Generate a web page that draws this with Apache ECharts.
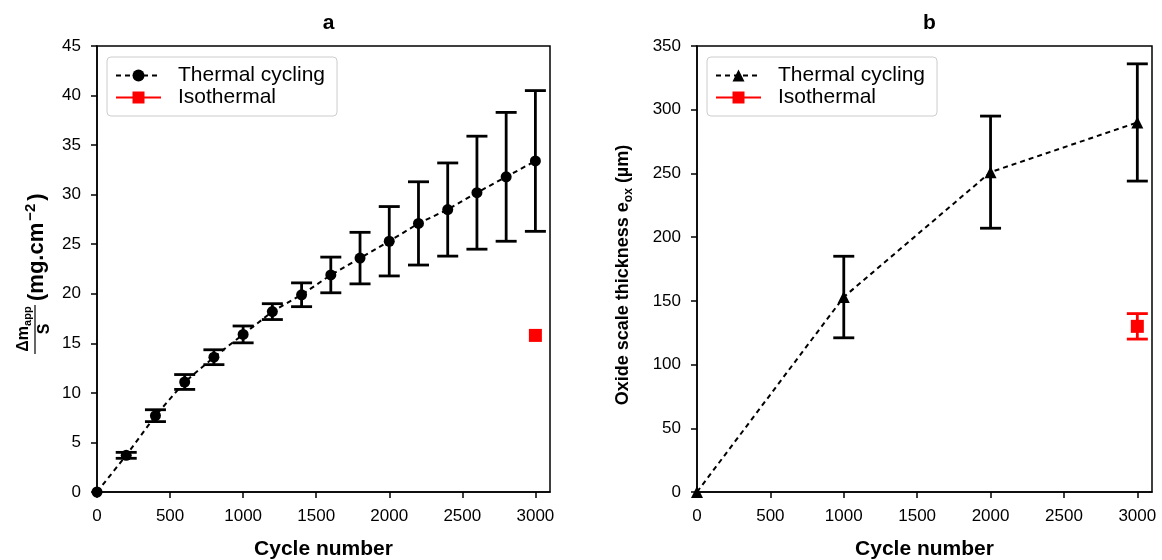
<!DOCTYPE html>
<html><head><meta charset="utf-8">
<script src="https://cdn.jsdelivr.net/npm/echarts@6/dist/echarts.min.js"></script>
<style>html,body{margin:0;padding:0;background:#fff}#c{width:1162px;height:560px}</style>
</head><body><div id="c"></div>
<script>
// ---- data ----
const xTicks = [0, 500, 1000, 1500, 2000, 2500, 3000];
const cyclesA = [0, 200, 400, 600, 800, 1000, 1200, 1400, 1600, 1800, 2000, 2200, 2400, 2600, 2800, 3000];
const massGain = [0, 3.7, 7.7, 11.1, 13.6, 15.9, 18.2, 19.9, 21.9, 23.6, 25.3, 27.1, 28.5, 30.2, 31.8, 33.4];
const massErr = [0, 0.3, 0.6, 0.75, 0.75, 0.85, 0.8, 1.2, 1.8, 2.6, 3.5, 4.2, 4.7, 5.7, 6.5, 7.1];
const isoCycleA = [3000];
const isoMass = [15.8];
const cyclesB = [0, 1000, 2000, 3000];
const thickness = [0, 153, 251, 290];
const thicknessErr = [0, 32, 44, 46];
const isoCycleB = [3000];
const isoThickness = [130];
const isoThicknessErr = [10];

const FONT = "'Liberation Sans', Arial, sans-serif";
const BLACK = '#000';
const RED = '#ff0000';

function pairs(xs, ys) { return xs.map((x, i) => [x, ys[i]]); }
function errData(xs, ys, es) {
  const out = [];
  xs.forEach((x, i) => { if (es[i] > 0) out.push([x, ys[i] - es[i], ys[i] + es[i]]); });
  return out;
}
function errorSeries(idx, data, color) {
  return {
    type: 'custom', xAxisIndex: idx, yAxisIndex: idx, data: data, z: 2, silent: true,
    encode: { x: 0, y: [1, 2] },
    renderItem: function (params, api) {
      const x = api.value(0), lo = api.value(1), hi = api.value(2);
      const p1 = api.coord([x, hi]), p2 = api.coord([x, lo]);
      const h = 10.5;
      const st = { stroke: color, lineWidth: 2.8 };
      return { type: 'group', children: [
        { type: 'line', shape: { x1: p1[0], y1: p1[1], x2: p2[0], y2: p2[1] }, style: st },
        { type: 'line', shape: { x1: p1[0] - h, y1: p1[1], x2: p1[0] + h, y2: p1[1] }, style: st },
        { type: 'line', shape: { x1: p2[0] - h, y1: p2[1], x2: p2[0] + h, y2: p2[1] }, style: st }
      ] };
    }
  };
}
function xAxis(idx) {
  return {
    type: 'value', gridIndex: idx, min: 0, max: 3100,
    axisLine: { show: true, onZero: false, lineStyle: { color: BLACK, width: 1.5 } },
    axisTick: { show: true, length: 6, customValues: xTicks, lineStyle: { color: BLACK, width: 1.5 } },
    axisLabel: { customValues: xTicks, formatter: v => String(v), fontSize: 17, color: BLACK, margin: 16, fontFamily: FONT },
    splitLine: { show: false },
    name: 'Cycle number', nameLocation: 'middle', nameGap: 47,
    nameTextStyle: { fontSize: 21, fontWeight: 'bold', color: BLACK, fontFamily: FONT }
  };
}
function yAxis(idx, max, interval, extra) {
  return Object.assign({
    type: 'value', gridIndex: idx, min: 0, max: max, interval: interval,
    axisLine: { show: true, onZero: false, lineStyle: { color: BLACK, width: 1.5 } },
    axisTick: { show: true, length: 6, lineStyle: { color: BLACK, width: 1.5 } },
    axisLabel: { formatter: v => String(v), fontSize: 17, color: BLACK, margin: 16, fontFamily: FONT },
    splitLine: { show: false }
  }, extra || {});
}
function legend(left, names) {
  return {
    left: left, top: 57, orient: 'vertical', data: names, selectedMode: false,
    formatter: n => n.split('|')[0],
    backgroundColor: '#fff', borderColor: '#cccccc', borderWidth: 1, borderRadius: 4,
    padding: [8, 12, 8, 8], itemWidth: 45, itemHeight: 15, itemGap: 1,
    textStyle: { fontSize: 21, color: BLACK, fontFamily: FONT, padding: [0, 0, 0, 12], lineHeight: 20 }
  };
}

const chart = echarts.init(document.getElementById('c'), null, { renderer: 'canvas' });
chart.setOption({
  animation: false,
  textStyle: { fontFamily: FONT },
  title: [
    { text: 'a', left: 323.5, top: 8, textAlign: 'center', textStyle: { fontSize: 21, fontWeight: 'bold', color: BLACK, fontFamily: FONT } },
    { text: 'b', left: 924.5, top: 8, textAlign: 'center', textStyle: { fontSize: 21, fontWeight: 'bold', color: BLACK, fontFamily: FONT } }
  ],
  grid: [
    { left: 97, top: 46, width: 453, height: 446, show: true, borderColor: BLACK, borderWidth: 1.5, backgroundColor: 'transparent', containLabel: false, outerBoundsMode: 'none' },
    { left: 697, top: 46, width: 455, height: 446, show: true, borderColor: BLACK, borderWidth: 1.5, backgroundColor: 'transparent', containLabel: false, outerBoundsMode: 'none' }
  ],
  xAxis: [xAxis(0), xAxis(1)],
  yAxis: [
    yAxis(0, 45, 5),
    yAxis(1, 350, 50, {
      name: '{b|Oxide scale thickness e}{sub|ox}{b| (µm)}', nameLocation: 'middle', nameGap: 62, nameRotate: 90,
      nameTextStyle: { padding: [0, 12, 0, 0], rich: {
        b: { fontSize: 18, fontWeight: 'bold', color: BLACK, fontFamily: FONT, lineHeight: 23 },
        sub: { fontSize: 12, fontWeight: 'bold', color: BLACK, fontFamily: FONT, lineHeight: 12, verticalAlign: 'bottom' }
      } }
    })
  ],
  legend: [
    legend(107, ['Thermal cycling|a', 'Isothermal|a']),
    legend(707, ['Thermal cycling|b', 'Isothermal|b'])
  ],
  series: [
    errorSeries(0, errData(cyclesA, massGain, massErr), BLACK),
    { name: 'Thermal cycling|a', type: 'line', xAxisIndex: 0, yAxisIndex: 0, data: pairs(cyclesA, massGain), z: 3,
      symbol: 'circle', symbolSize: 11, itemStyle: { color: BLACK }, lineStyle: { color: BLACK, width: 2, type: [5, 4] } },
    { name: 'Isothermal|a', type: 'line', xAxisIndex: 0, yAxisIndex: 0, data: pairs(isoCycleA, isoMass), z: 3,
      symbol: 'rect', symbolSize: 13, itemStyle: { color: RED }, lineStyle: { color: RED, width: 3 } },
    errorSeries(1, errData(cyclesB, thickness, thicknessErr), BLACK),
    errorSeries(1, errData(isoCycleB, isoThickness, isoThicknessErr), RED),
    { name: 'Thermal cycling|b', type: 'line', xAxisIndex: 1, yAxisIndex: 1, data: pairs(cyclesB, thickness), z: 3,
      symbol: 'triangle', symbolSize: 12, itemStyle: { color: BLACK }, lineStyle: { color: BLACK, width: 2, type: [5, 4] } },
    { name: 'Isothermal|b', type: 'line', xAxisIndex: 1, yAxisIndex: 1, data: pairs(isoCycleB, isoThickness), z: 3,
      symbol: 'rect', symbolSize: 13, itemStyle: { color: RED }, lineStyle: { color: RED, width: 3 } }
  ],
  graphic: [{
    type: 'group', x: 37, y: 266, rotation: Math.PI / 2, silent: true,
    children: [
      { type: 'text', x: -35, y: 0, style: {
          text: '{m|(mg.cm}{sup|−2}{m|)}', align: 'left', verticalAlign: 'middle',
          rich: {
            m: { fontSize: 22, fontWeight: 'bold', fill: BLACK, fontFamily: FONT, lineHeight: 28 },
            sup: { fontSize: 15, fontWeight: 'bold', fill: BLACK, fontFamily: FONT, lineHeight: 15, verticalAlign: 'top', padding: [0, 3, 0, 2] }
          } } },
      { type: 'text', x: -63, y: -13, style: {
          text: '{m|Δm}{sub|app}', align: 'center', verticalAlign: 'middle',
          rich: {
            m: { fontSize: 16, fontWeight: 'bold', fill: BLACK, fontFamily: FONT, lineHeight: 19 },
            sub: { fontSize: 11, fontWeight: 'bold', fill: BLACK, fontFamily: FONT, lineHeight: 11, verticalAlign: 'bottom' }
          } } },
      { type: 'line', shape: { x1: -88, y1: -2, x2: -39, y2: -2 }, style: { stroke: BLACK, lineWidth: 1.2 } },
      { type: 'text', x: -63, y: 8, style: { text: 'S', align: 'center', verticalAlign: 'middle',
          fontSize: 16, fontWeight: 'bold', fill: BLACK, fontFamily: FONT } }
    ]
  }]
});
</script>
</body></html>
